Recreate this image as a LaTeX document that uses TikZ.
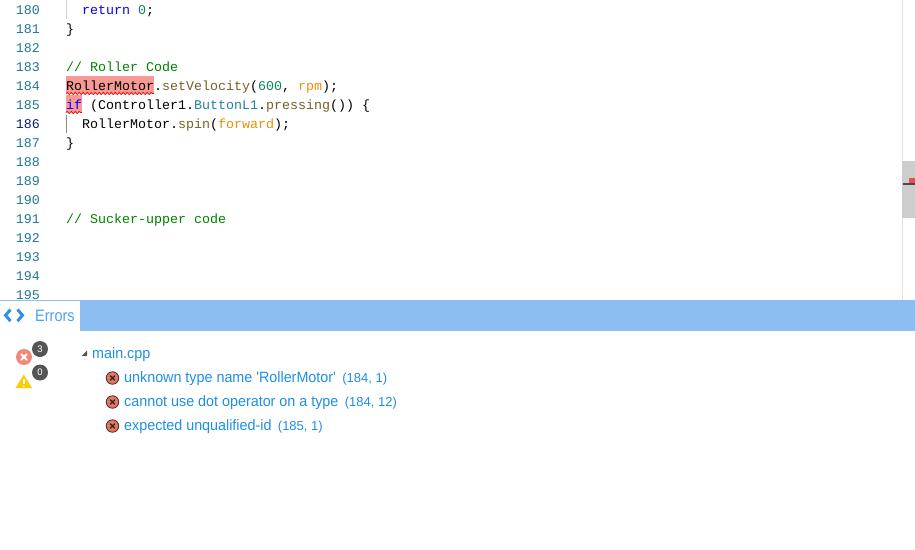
\documentclass[tikz,border=0pt]{standalone}
\usepackage{fontspec}
\newfontfamily\codefont{Liberation Mono}
\newfontfamily\uisans[FakeStretch=0.955]{Liberation Sans}
\newfontfamily\uiloc{Liberation Sans}
\newfontfamily\uinarrow[FakeStretch=0.88]{Liberation Sans}
\usetikzlibrary{decorations.pathmorphing}
\definecolor{lnum}{HTML}{237893}
\definecolor{lnumcur}{HTML}{0B216F}
\definecolor{kw}{HTML}{0000FF}
\definecolor{numc}{HTML}{098658}
\definecolor{cmt}{HTML}{008000}
\definecolor{fnc}{HTML}{795E26}
\definecolor{cst}{HTML}{E8900C}
\definecolor{typ}{HTML}{267F99}
\definecolor{errbg}{HTML}{F79A96}
\definecolor{squig}{HTML}{E51400}
\definecolor{guide}{HTML}{D3D3D3}
\definecolor{scrollline}{HTML}{E2E2E2}
\definecolor{thumb}{HTML}{CDCDCD}
\definecolor{markred}{HTML}{E05252}
\definecolor{markdark}{HTML}{4A4A4A}
\definecolor{barblue}{HTML}{8CBEF2}
\definecolor{tabblue}{HTML}{4DA3EF}
\definecolor{chevblue}{HTML}{2F8FEB}
\definecolor{listblue}{HTML}{1E8FE6}
\definecolor{erricon}{HTML}{F08A78}
\definecolor{erriconb}{HTML}{E9735F}
\definecolor{badge}{HTML}{555555}
\definecolor{warn}{HTML}{FFCC00}
\frenchspacing
\begin{document}
\begin{tikzpicture}[x=1pt,y=-1pt,
  lnumstyle/.style={anchor=base east,inner sep=0pt,text=lnum,font=\codefont\fontsize{13.33}{16}\selectfont},
  codestyle/.style={anchor=base west,inner sep=0pt,text=black,font=\codefont\fontsize{13.33}{16}\selectfont},
  squiggle/.style={draw=squig,line width=0.8pt,decorate,decoration={snake,segment length=4pt,amplitude=1.1pt}},
  listtext/.style={anchor=base west,inner sep=0pt,text=listblue,font=\uisans\fontsize{15}{18}\selectfont},
  loctext/.style={anchor=base west,inner sep=0pt,text=listblue,font=\uiloc\fontsize{13}{16}\selectfont},
  badgetext/.style={inner sep=0pt,text=white,font=\uiloc\fontsize{9.5}{11}\selectfont},
  listicon/.style={circle,fill=erriconb,draw=black!80,line width=0.8pt,minimum size=12.5pt,inner sep=0pt}
]
\useasboundingbox (0,0) rectangle (915,549);
\fill[white] (0,0) rectangle (915,549);

% error highlights
\fill[errbg] (66,76) rectangle (154,93);
\fill[errbg] (66,95) rectangle (82,112);
\draw[squiggle] (66,93.5) -- (154,93.5);
\draw[squiggle] (66,112.5) -- (82,112.5);

% indent guides
\draw[guide,line width=1pt] (66.5,0) -- (66.5,18.5);
\draw[black!45,line width=1pt] (66.5,114.5) -- (66.5,132.5);

% line numbers
\foreach \n [count=\k from 0] in {180,181,182,183,184,185}
  \node[lnumstyle] (ln\n) at (40,14+19*\k) {\n};
\node[lnumstyle,text=lnumcur] (ln186) at (40,128) {186};
\foreach \n [count=\k from 7] in {187,188,189,190,191,192,193,194,195}
  \node[lnumstyle] (ln\n) at (40,14+19*\k) {\n};

% code
\node[codestyle] (c180) at (82,14) {\textcolor{kw}{return} \textcolor{numc}{0};};
\node[codestyle] (c181) at (66,33) {\}};
\node[codestyle,text=cmt] (c183) at (66,71) {// Roller Code};
\node[codestyle] (c184) at (66,90) {RollerMotor.\textcolor{fnc}{setVelocity}(\textcolor{numc}{600}, \textcolor{cst}{rpm});};
\node[codestyle] (c185) at (66,109) {\textcolor{kw}{if} (Controller1.\textcolor{typ}{ButtonL1}.\textcolor{fnc}{pressing}()) \{};
\node[codestyle] (c186) at (82,128) {RollerMotor.\textcolor{fnc}{spin}(\textcolor{cst}{forward});};
\node[codestyle] (c187) at (66,147) {\}};
\node[codestyle,text=cmt] (c191) at (66,223) {// Sucker-upper code};

% scrollbar / overview ruler
\draw[scrollline,line width=1pt] (902.5,0) -- (902.5,300);
\fill[thumb] (902,161) rectangle (915,218);
\fill[markred] (909,178) rectangle (915,183.5);
\fill[markdark] (903,183) rectangle (915,185);

% panel header
\fill[white] (0,300) rectangle (915,549);
\fill[barblue] (80,300) rectangle (915,331);
\draw[barblue,line width=1pt] (0,300.5) -- (915,300.5);
\draw[chevblue,line width=3pt,line cap=butt,line join=miter] (10.5,309.5) -- (5.5,315.3) -- (10.5,321.1);
\draw[chevblue,line width=3pt,line cap=butt,line join=miter] (17.5,309.5) -- (22.5,315.3) -- (17.5,321.1);
\node[anchor=base west,inner sep=0pt,text=tabblue,font=\uinarrow\fontsize{16.5}{19}\selectfont] (tab) at (35,321.3) {Errors};

% sidebar counters
\node[circle,fill=erricon,minimum size=16pt,inner sep=0pt] (erric) at (24,357) {};
\draw[white,line width=1.8pt] ([shift={(-3,-3)}]erric.center) -- ([shift={(3,3)}]erric.center)
  ([shift={(-3,3)}]erric.center) -- ([shift={(3,-3)}]erric.center);
\node[circle,fill=badge,minimum size=16pt,inner sep=0pt] (b3) at (40,349) {};
\node[badgetext] (b3t) at (b3.center) {3};
\fill[warn] (15.5,388) -- (32,388) -- (23.75,374.5) -- cycle;
\coordinate (wtop) at (23.75,379);
\coordinate (wbot) at (23.75,384);
\draw[white,line width=1.6pt] (wtop) -- (wbot);
\fill[white] (23.75,386.2) circle (0.9);
\node[circle,fill=badge,minimum size=16pt,inner sep=0pt] (b0) at (40,372.5) {};
\node[badgetext] (b0t) at (b0.center) {0};

% tree
\fill[badge] (87,350.5) -- (87,356) -- (81.5,356) -- cycle;
\node[listtext] (file) at (92,358) {main.cpp};

% error entries
\foreach \y/\msg/\loc [count=\i] in {382/{unknown type name 'RollerMotor'}/{(184, 1)},
                                   406/{cannot use dot operator on a type}/{(184, 12)},
                                   430/{expected unqualified-id}/{(185, 1)}} {
  \node[listicon] (ic\i) at (112.5,\y-4) {};
  \draw[black!85,line width=1.3pt] ([shift={(-2.3,-2.3)}]ic\i.center) -- ([shift={(2.3,2.3)}]ic\i.center)
     ([shift={(-2.3,2.3)}]ic\i.center) -- ([shift={(2.3,-2.3)}]ic\i.center);
  \node[listtext] (msg\i) at (124,\y) {\msg};
  \node[loctext] (loc\i) at ([xshift=6pt]msg\i.base east) {\loc};
}
\end{tikzpicture}
\end{document}
